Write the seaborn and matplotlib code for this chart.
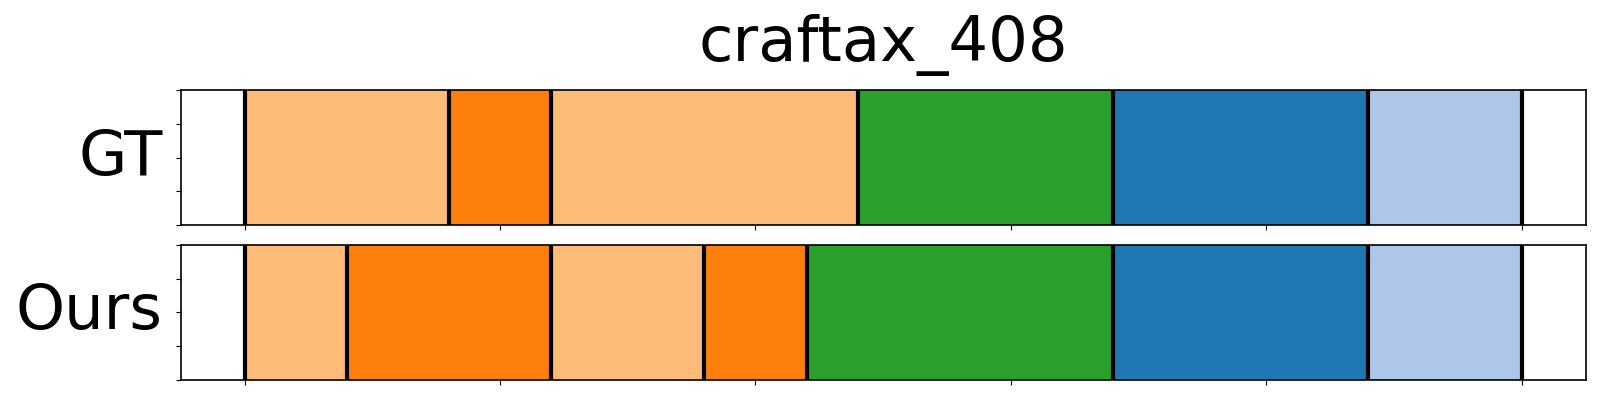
import numpy as np
import pandas as pd
import matplotlib
matplotlib.use("Agg")
import matplotlib.pyplot as plt
import seaborn as sns

title = "craftax_408"
rows = ["GT", "Ours"]

# segment boundaries (frames) and the tab20 colour index of each segment
gt_bounds = [0, 40, 60, 120, 170, 220, 250]
gt_labels = [3, 2, 3, 4, 0, 1]
ours_bounds = [0, 20, 60, 90, 110, 170, 220, 250]
ours_labels = [3, 2, 3, 2, 4, 0, 1]

x_ticks = [0, 50, 100, 150, 200, 250]


def to_frame(bounds, labels):
    return pd.DataFrame({
        "start": bounds[:-1],
        "end": bounds[1:],
        "label": labels,
    })


sns.set_style("ticks", rc={
    "axes.edgecolor": "black",
    "text.color": "black",
    "axes.labelcolor": "black",
    "xtick.color": "black",
    "ytick.color": "black",
})
plt.rcParams["font.family"] = ["DejaVu Sans"]
palette = sns.color_palette("tab20")

fig, axes = plt.subplots(2, 1, figsize=(16, 4), dpi=100)
fig.subplots_adjust(left=0.113, right=0.991, top=0.775, bottom=0.05, hspace=0.148)

for ax, name, bounds, labels in zip(axes, rows, [gt_bounds, ours_bounds], [gt_labels, ours_labels]):
    df = to_frame(bounds, labels)
    for _, seg in df.iterrows():
        c = palette[int(seg["label"])]
        ax.barh(0, seg["end"] - seg["start"], left=seg["start"], height=1,
                align="edge", color=c, edgecolor=c, linewidth=1)
    for b in bounds:
        ax.axvline(b, color="black", linewidth=3)
    # default 5% padding on both sides of the sequence
    ax.use_sticky_edges = False
    ax.margins(x=0.05)
    ax.set_ylim(0, 1)
    ax.set_yticks(np.linspace(0, 1, 5))
    ax.set_yticklabels([])
    ax.set_xticks(x_ticks)
    ax.set_xticklabels([])
    ax.set_ylabel(name, fontsize=45, rotation=0, ha="right", va="center", labelpad=6)
    for sp in ax.spines.values():
        sp.set_visible(True)
        sp.set_linewidth(1.2)

axes[0].set_title(title, fontsize=45, pad=21)

plt.savefig("out.png")
plt.close()
